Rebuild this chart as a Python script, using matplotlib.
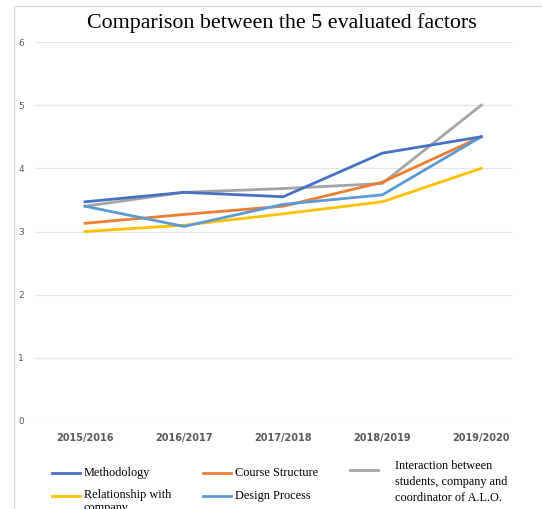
import matplotlib.pyplot as plt
from matplotlib.lines import Line2D
from matplotlib.patches import Rectangle

years = ['2015/2016', '2016/2017', '2017/2018', '2018/2019', '2019/2020']
methodology = [3.47, 3.62, 3.55, 4.24, 4.50]
course_structure = [3.13, 3.27, 3.40, 3.78, 4.50]
interaction = [3.40, 3.62, 3.68, 3.76, 5.00]
relationship = [3.00, 3.10, 3.28, 3.47, 4.00]
design_process = [3.40, 3.08, 3.43, 3.58, 4.50]

series = [
    ('Methodology', methodology, '#4472C4'),
    ('Course Structure', course_structure, '#ED7D31'),
    ('Interaction between\nstudents, company and\ncoordinator of A.L.O.', interaction, '#A5A5A5'),
    ('Relationship with\ncompany', relationship, '#FFC000'),
    ('Design Process', design_process, '#5B9BD5'),
]

W, H = 542, 509
fig = plt.figure(figsize=(W / 100, H / 100), dpi=100)
fig.patch.set_facecolor('white')

# light chart border (cropped on right and bottom)
fig.add_artist(Rectangle((14 / W, -0.1), 1.2, (H - 6) / H + 0.1, transform=fig.transFigure,
                         fill=False, edgecolor='#D9D9D9', linewidth=0.8))

ax = fig.add_axes([35 / W, 88 / H, (513 - 35) / W, (467 - 88) / H])
x = range(len(years))
# draw order: gray under blue etc.
for idx in [2, 3, 1, 4, 0]:
    name, vals, col = series[idx]
    ax.plot(x, vals, color=col, linewidth=2.0, solid_joinstyle='miter')

ax.set_ylim(0, 6)
ax.set_xlim(-0.505, 4.32)
ax.set_yticks(range(0, 7))
ax.set_xticks(list(x))
ax.set_xticklabels(years, fontsize=7, color='#595959', fontweight='bold')
ax.tick_params(axis='y', labelsize=6.5, labelcolor='#595959', length=0, pad=8)
ax.tick_params(axis='x', length=0, pad=9)
ax.grid(axis='y', color='#E6E6E6', linewidth=0.9)
ax.set_axisbelow(True)
for s in ax.spines.values():
    s.set_visible(False)

fig.text(282 / W, 1 - 23 / H, 'Comparison between the 5 evaluated factors',
         family='Liberation Serif', fontsize=15.8, ha='center', va='center')

# legend laid out like the original (three columns)
legend_pos = [(52, 473), (203, 473), (350, 470), (52, 496), (203, 496)]
text_top = {2: (460, 1.45), 3: (489, 1.1)}
for i, ((name, vals, col), (lx, ly)) in enumerate(zip(series, legend_pos)):
    fig.add_artist(Line2D([lx / W, (lx + 28) / W], [1 - ly / H, 1 - ly / H],
                          transform=fig.transFigure, color=col, linewidth=2.0))
    tx = lx + 45 if i == 2 else lx + 32
    if i in text_top:
        top, ls = text_top[i]
        fig.text(tx / W, 1 - top / H, name, family='Liberation Serif',
                 fontsize=8.8, ha='left', va='top', linespacing=ls)
    else:
        fig.text(tx / W, 1 - ly / H, name, family='Liberation Serif',
                 fontsize=8.8, ha='left', va='center')

fig.savefig('out.png', dpi=100)
